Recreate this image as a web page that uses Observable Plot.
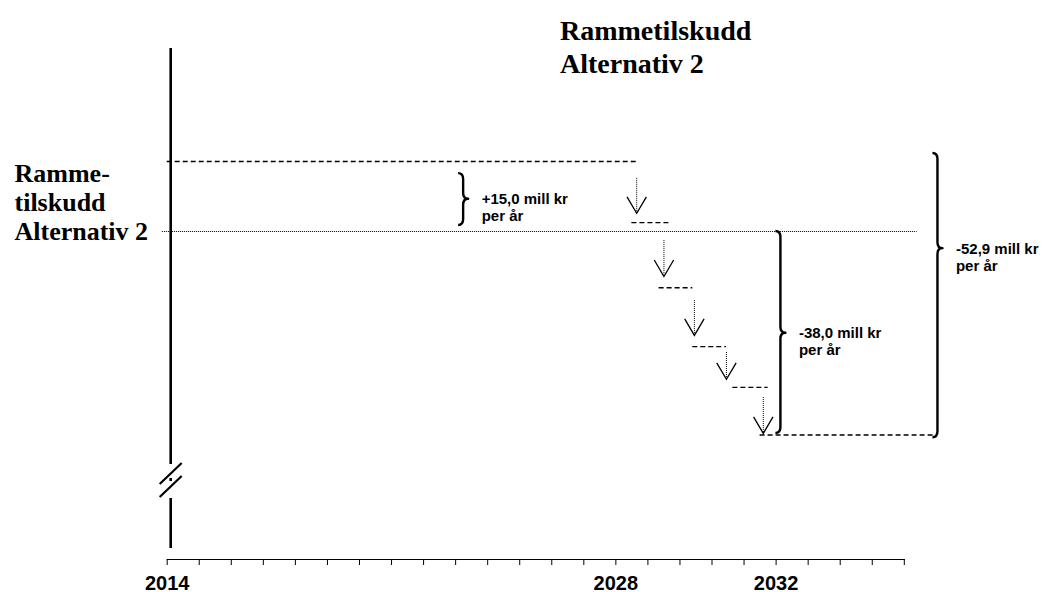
<!DOCTYPE html>
<html>
<head>
<meta charset="utf-8">
<script src="https://cdn.jsdelivr.net/npm/d3@7"></script>
<script src="https://cdn.jsdelivr.net/npm/@observablehq/plot@0.6"></script>
<style>
  body { margin: 0; background: #fff; }
  #wrap { position: relative; width: 1045px; height: 592px; }
  #title { position: absolute; left: 560px; top: 14px; z-index: 1;
           font: bold 28px/33px "Liberation Serif", "Times New Roman", serif; color: #000; }
  #wrap svg g[aria-label^="x-axis"] text { font: bold 20px "Liberation Sans", Arial, sans-serif; }
</style>
</head>
<body>
<div id="wrap"><div id="title">Rammetilskudd<br>Alternativ 2</div></div>
<script>
// ---- axis ----
const tickSlots = d3.range(24);                 // one tick per slot on the time axis
const yearLabels = ["2014", "2028", "2032"];
const yearLabelSlots = [0, 14, 19];

// ---- level segments (mill kr relative to Alternativ 2) ----
const segStart = [0, 14.5, 15.35, 16.4, 17.65, 18.5];
const segEnd   = [14.65, 15.75, 16.4, 17.45, 18.75, 23.9];
const segLevel = [15, 1.9, -10.5, -21.5, -29.1, -38];

// ---- reference level (Rammetilskudd Alternativ 2) ----
const refLabel = "Ramme-\ntilskudd\nAlternativ 2";
const refLevel = 0;
const refStart = -0.15;
const refEnd = 23.4;

// ---- step arrows ----
const arrowSlot = [14.65, 15.5, 16.45, 17.45, 18.6];
const arrowFrom = [11.4, -1.7, -12.9, -22.6, -31.0];
const arrowTo   = [3.9, -8.4, -19.4, -27.6, -37.7];

// ---- braces ----
const braceLabels = ["+15,0 mill kr\nper år", "-38,0 mill kr\nper år", "-52,9 mill kr\nper år"];
const braceSlot   = [9.25, 19.15, 24.05];
const braceTop    = [12.4, 0, 16.7];
const braceBottom = [1.3, -37.7, -38.5];
const braceTip    = [6.9, -19, -3.2];

const segIdx = d3.range(segLevel.length);
const arrowIdx = d3.range(arrowSlot.length);
const braceIdx = d3.range(braceLabels.length);

// open "V" arrowhead symbol, tip at the point
const vHead = {
  draw(ctx, size) {
    const r = Math.sqrt(size / Math.PI);
    ctx.moveTo(-r, -1.7 * r);
    ctx.lineTo(0, 0);
    ctx.lineTo(r, -1.7 * r);
  }
};

// curly braces drawn through the scales
function braces(index, scales) {
  const g = d3.create("svg:g").attr("fill", "none").attr("stroke", "black")
    .attr("stroke-width", 2.4).attr("stroke-linejoin", "round");
  const w = 5, r = 6;
  for (const i of braceIdx) {
    const X = scales.x(braceSlot[i]);
    const Y1 = scales.y(braceTop[i]);
    const Y2 = scales.y(braceBottom[i]);
    const C = scales.y(braceTip[i]);
    const p = d3.path();
    p.moveTo(X - w, Y1);
    p.quadraticCurveTo(X, Y1, X, Y1 + r);
    p.lineTo(X, C - r);
    p.quadraticCurveTo(X, C, X + w, C);
    p.quadraticCurveTo(X, C, X, C + r);
    p.lineTo(X, Y2 - r);
    p.quadraticCurveTo(X, Y2, X - w, Y2);
    g.append("path").attr("d", p.toString());
  }
  return g.node();
}

// vertical (broken) axis line
function brokenAxis(index, scales, values, dims) {
  const g = d3.create("svg:g").attr("stroke", "black").attr("fill", "none");
  const X = scales.x(0) + 4;
  const top = dims.marginTop;
  const bottom = dims.height - dims.marginBottom - 11;
  g.append("line").attr("x1", X).attr("x2", X).attr("y1", top).attr("y2", bottom - 84).attr("stroke-width", 2.6);
  g.append("line").attr("x1", X).attr("x2", X).attr("y1", bottom - 70).attr("y2", bottom - 67).attr("stroke-width", 2.6);
  g.append("line").attr("x1", X).attr("x2", X).attr("y1", bottom - 50).attr("y2", bottom).attr("stroke-width", 2.6);
  for (const c of [74.5, 61.5]) {
    g.append("line").attr("x1", X - 11).attr("y1", bottom - c + 10.5)
      .attr("x2", X + 11).attr("y2", bottom - c - 10.5).attr("stroke-width", 2.2);
  }
  return g.node();
}

const sans = '"Liberation Sans", Arial, sans-serif';
const serif = '"Liberation Serif", "Times New Roman", serif';

const chart = Plot.plot({
  width: 1045,
  height: 592,
  marginLeft: 166.7,
  marginRight: 141.2,
  marginTop: 48,
  marginBottom: 33,
  style: {color: "black", background: "white", overflow: "visible"},
  x: {
    domain: [0, 23],
    ticks: tickSlots,
    tickFormat: d => { const k = yearLabelSlots.indexOf(d); return k >= 0 ? yearLabels[k] : ""; },
    tickSize: 6,
    tickPadding: 10,
    line: true,
    label: null
  },
  y: {type: "linear", domain: [-38, 0, 15], range: [434.5, 231, 161], axis: null},
  marks: [
    brokenAxis,
    // reference level, dotted
    Plot.ruleY([0], {y: () => refLevel, x1: () => refStart, x2: () => refEnd,
      stroke: "black", strokeWidth: 1, strokeDasharray: "1,1"}),
    // level segments, dashed
    Plot.ruleY(segIdx, {y: i => segLevel[i], x1: i => segStart[i], x2: i => segEnd[i],
      stroke: "black", strokeWidth: 1.3, strokeDasharray: "5,3"}),
    // arrow shafts, dotted
    Plot.ruleX(arrowIdx, {x: i => arrowSlot[i], y1: i => arrowFrom[i], y2: i => arrowTo[i],
      stroke: "black", strokeWidth: 1, strokeDasharray: "1,1"}),
    // arrow heads
    Plot.dot(arrowIdx, {x: i => arrowSlot[i], y: i => arrowTo[i], symbol: vHead, r: 9.7,
      fill: "none", stroke: "black", strokeWidth: 1.3}),
    braces,
    Plot.text(braceIdx, {x: i => braceSlot[i], y: i => braceTip[i], text: i => braceLabels[i],
      dx: 18, dy: -7, textAnchor: "start", lineAnchor: "top", lineHeight: 1.13,
      fontFamily: sans, fontSize: 15, fontWeight: "bold", fill: "black"}),
    Plot.text([0], {y: () => refLevel, text: () => refLabel, frameAnchor: "left",
      dx: -152.7, dy: 8, textAnchor: "start", lineAnchor: "bottom", lineHeight: 1.1,
      fontFamily: serif, fontSize: 26, fontWeight: "bold", fill: "black"})
  ]
});
// make sure the serif face is used for the reference-level label
d3.select(chart).selectAll("text")
  .filter(function () { return this.textContent.startsWith("Ramme-"); })
  .style("font-family", serif).style("font-weight", "bold").style("font-size", "26px");
document.getElementById("wrap").appendChild(chart);
</script>
</body>
</html>
